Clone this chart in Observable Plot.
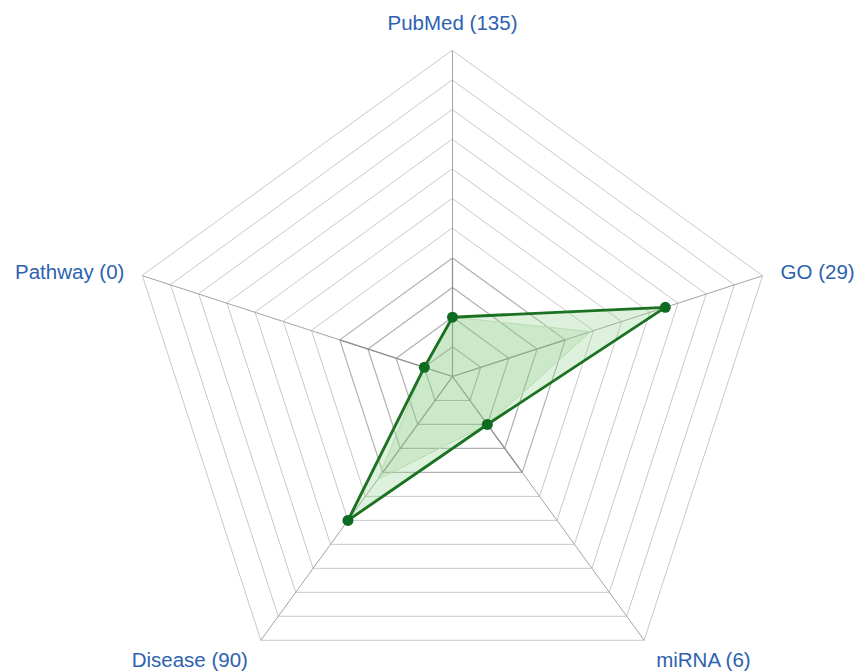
<!DOCTYPE html>
<html>
<head>
<meta charset="utf-8">
<script src="https://cdn.jsdelivr.net/npm/d3@7"></script>
<script src="https://cdn.jsdelivr.net/npm/@observablehq/plot@0.6"></script>
<style>
  html, body { margin: 0; padding: 0; background: #fff; }
  #chart svg { display: block; }
</style>
</head>
<body>
<div id="chart"></div>
<script>
// ---- data ----
const axes = ["PubMed", "GO", "miRNA", "Disease", "Pathway"];
const counts = [135, 29, 6, 90, 0];
const levels = [1, 2, 3, 4, 5, 6, 7, 8, 9, 10, 11];
const geneValues = [2, 7.55, 2, 6, 1];        // main series (in ring units)
const ghostValues = [2, 4.9, 2, 4.3, 1];       // faint inner green layer
const shadowValues = [2.2, 5, 4, 4.5, 4];      // faint grey background series

// ---- geometry helpers ----
const N = axes.length;
const maxLevel = d3.max(levels);
const ang = i => (i * 2 * Math.PI) / N;
const pt = (i, v) => ({ x: v * Math.sin(ang(i)), y: v * Math.cos(ang(i)) });

const W = 858, H = 671, cx = 452, cy = 376, unit = 29.64;

const ringRows = levels.flatMap(l => axes.map((a, i) => ({ level: l, ...pt(i, l) })));
const innerRings = ringRows.filter(d => d.level <= 4);
const outerRings = ringRows.filter(d => d.level > 4);
const spokes = axes.map((a, i) => ({ ...pt(i, 0), x2: pt(i, maxLevel).x, y2: pt(i, maxLevel).y }));
const innerSpokes = axes.map((a, i) => ({ ...pt(i, 0), x2: pt(i, 4).x, y2: pt(i, 4).y }));
const series = vals => vals.map((v, i) => ({ axis: axes[i], value: v, ...pt(i, v) }));
const gene = series(geneValues);
const ghost = series(ghostValues);
const shadow = series(shadowValues);
const labelRows = axes.map((a, i) => ({ label: `${a} (${counts[i]})`, ...pt(i, maxLevel) }));

const labelLayout = [
  { textAnchor: "middle", dx: 0, dy: -27 },
  { textAnchor: "start", dx: 18, dy: -3 },
  { textAnchor: "start", dx: 12, dy: 20 },
  { textAnchor: "end", dx: -13, dy: 20 },
  { textAnchor: "end", dx: -18, dy: -3 }
];

const chart = Plot.plot({
  width: W,
  height: H,
  margin: 0,
  x: { domain: [-cx / unit, (W - cx) / unit], axis: null },
  y: { domain: [(cy - H) / unit, cy / unit], axis: null },
  style: { background: "#fff", fontFamily: "Liberation Sans, Arial, sans-serif" },
  marks: [
    Plot.line(outerRings, { x: "x", y: "y", z: "level", curve: "linear-closed", stroke: "#c9c9c9", strokeWidth: 1 }),
    Plot.line(innerRings, { x: "x", y: "y", z: "level", curve: "linear-closed", stroke: "#b0b0b0", strokeWidth: 1.2 }),
    Plot.link(spokes, { x1: "x", y1: "y", x2: "x2", y2: "y2", stroke: "#a4a4a4", strokeWidth: 1 }),
    Plot.link(innerSpokes, { x1: "x", y1: "y", x2: "x2", y2: "y2", stroke: "#8f8f8f", strokeWidth: 1.2 }),
    Plot.line(shadow, { x: "x", y: "y", curve: "linear-closed", stroke: "#bdbdbd", strokeWidth: 6, strokeOpacity: 0.4, fill: "#e4e4e4", fillOpacity: 0.3, ariaLabel: "shadow" }),
    Plot.line(gene, { x: "x", y: "y", curve: "linear-closed", fill: "#8fd08a", fillOpacity: 0.3, stroke: "none" }),
    Plot.line(ghost, { x: "x", y: "y", curve: "linear-closed", fill: "#8fc98a", fillOpacity: 0.22, stroke: "#b8dcb0", strokeWidth: 1 }),
    Plot.line(gene, { x: "x", y: "y", curve: "linear-closed", stroke: "#1b7222", strokeWidth: 2.9 }),
    Plot.dot(gene, { x: "x", y: "y", r: 5.5, fill: "#0f6b22", stroke: "none" }),
    ...labelLayout.map((L, i) =>
      Plot.text([labelRows[i]], { x: "x", y: "y", text: "label", ...L, fill: "#2e62b0", fontSize: 20.5, fontFamily: "Liberation Sans, Arial, sans-serif" })
    )
  ]
});

d3.select(chart).selectAll('[aria-label="shadow"] path').style("filter", "blur(3px)");
document.getElementById("chart").appendChild(chart);
</script>
</body>
</html>
